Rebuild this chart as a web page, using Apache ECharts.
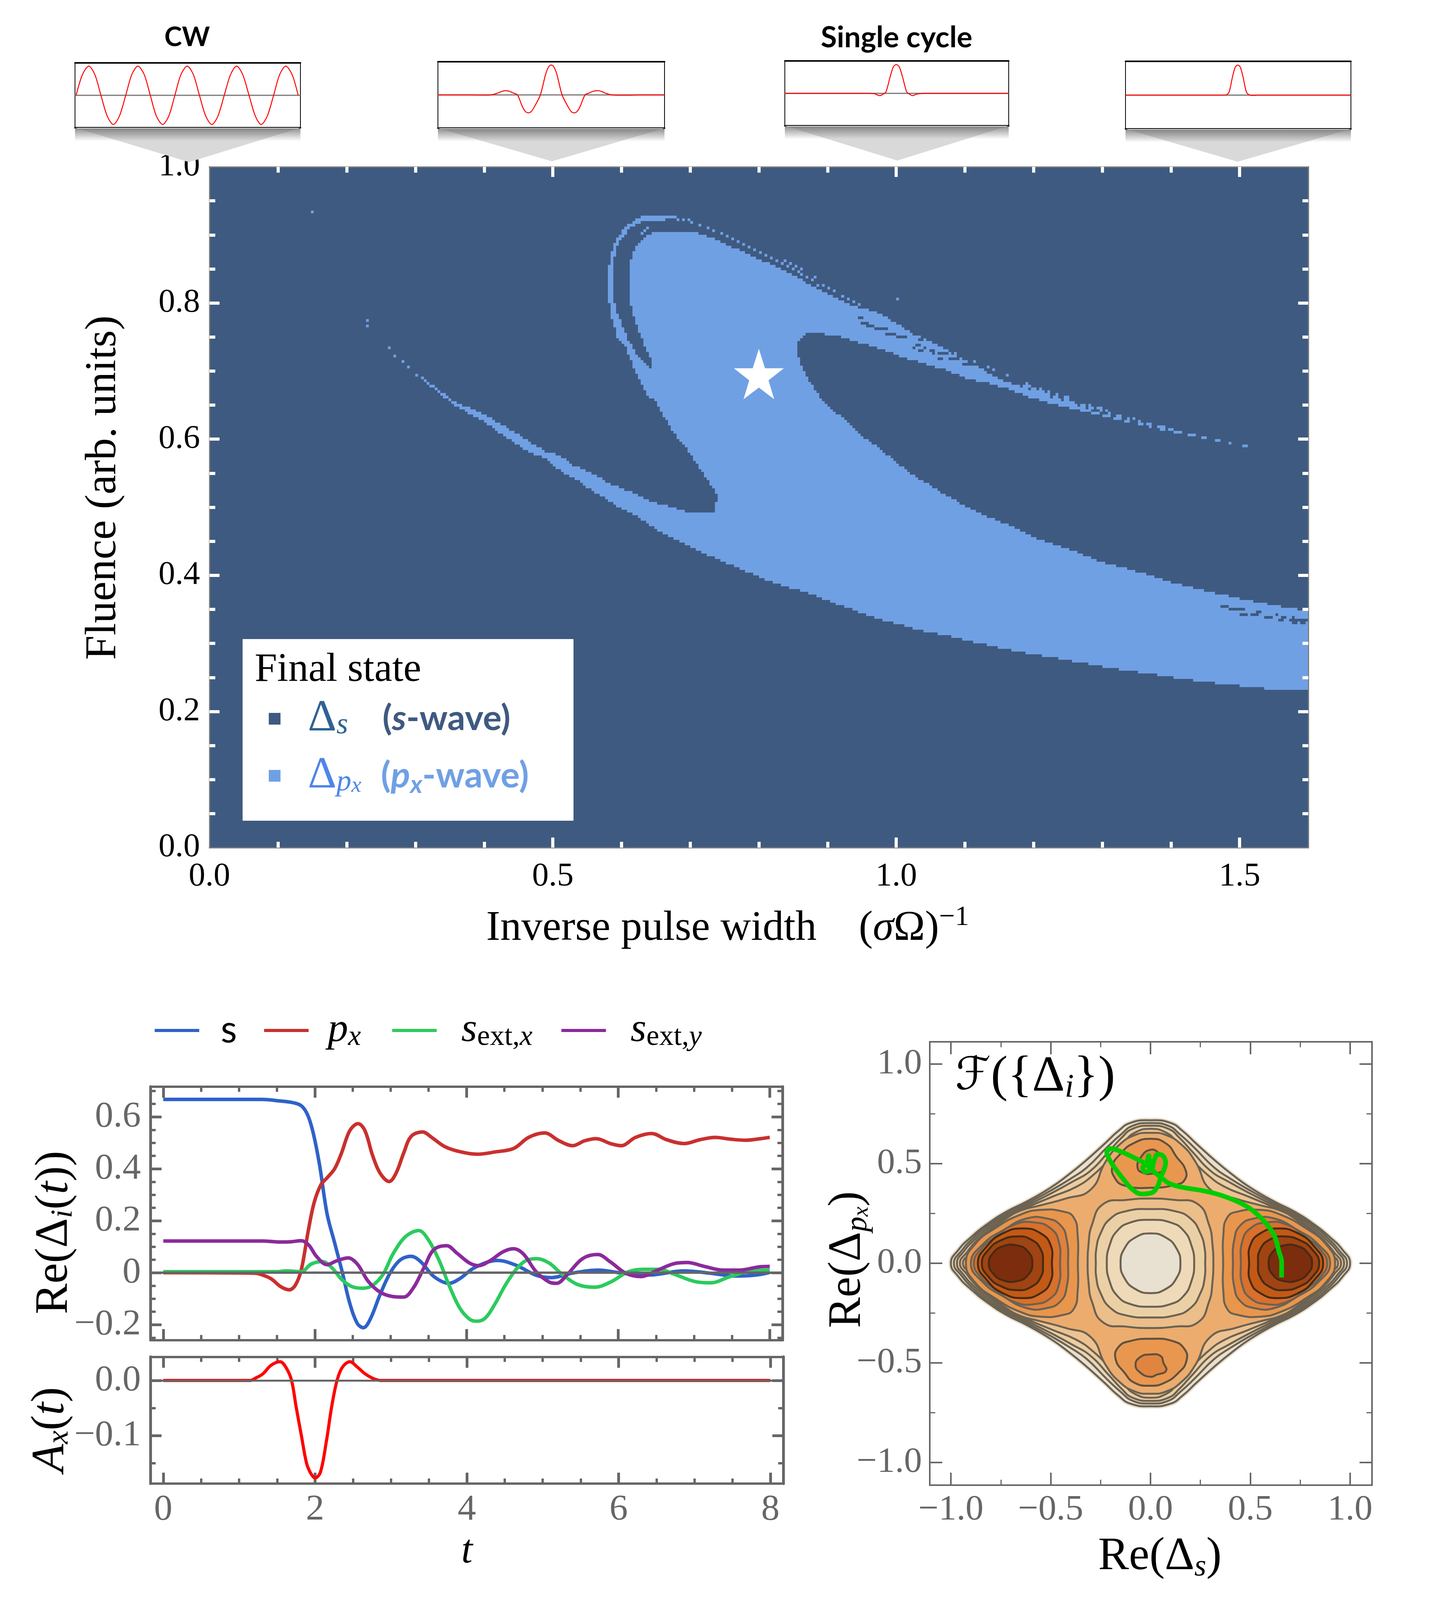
<!DOCTYPE html>
<html>
<head>
    <meta charset="utf-8">
    <title>Final state map</title>
    <style>
        html, body { margin: 0; padding: 0; background: #fff; }
        #chart { width: 3663px; height: 4098px; }
    </style>
</head>
<body>
<div id="chart"></div>
<script src="https://cdn.jsdelivr.net/npm/echarts@6/dist/echarts.min.js"></script>
<script>
    // ---- data ----

    // outline of the px-wave region, [inverse pulse width, fluence]
    var pxOutline = [
        [.30,.6985],[.354,.657],[.405,.634],[.46,.60],[.4915,.581],[.5096,.5761],[.5278,.5629],[.5604,.5481],[.5786,.5366],[.6112,.5234],[.6294,.5152],[.6475,.5069],[.6802,.4987],[.6947,.4921],[.7346,.4921],[.74,.5152],
        [.7328,.5283],[.7237,.5415],[.7128,.558],[.7019,.5744],[.691,.5909],[.6802,.604],[.6693,.6205],[.6602,.637],[.6511,.6535],[.6366,.6666],[.6294,.6798],[.6221,.6963],[.6149,.7127],[.6076,.7325],[.5949,.7457],[.5876,.772],[.584,.7852],[.5804,.8115],[.5804,.8461],[.5851,.8741],[.5913,.8906],[.6003,.9054],[.6149,.9186],[.6312,.9268],[.6783,.9268],
        [.6783,.9228],[.6312,.9202],[.6149,.912],[.604,.8988],[.5967,.8906],[.5902,.8708],[.5876,.8478],[.5876,.8115],[.5913,.7918],[.5985,.7753],[.604,.7588],[.6112,.7424],[.6239,.7226],[.6366,.7095],[.642,.7052],
        [.6432,.7177],[.6366,.7292],[.6312,.7457],[.6239,.7621],[.6192,.7753],[.6149,.7918],[.6112,.8115],[.6112,.8543],[.6167,.8741],[.6239,.8873],[.633,.8972],[.6511,.9054],[.7019,.9054],[.72,.8988],[.74,.8922],[.76,.8823],[.78,.8741],[.7963,.8659],[.8126,.8593],[.8289,.8504],[.8452,.8445],[.8616,.8346],[.8797,.8231],[.8996,.8148],[.9196,.8033],[.945,.7934],
        [.9683,.7885],[.9944,.7732],[1.0205,.7578],[1.0466,.7446],[1.0684,.7337],[1.0901,.7205],[1.1206,.7051],[1.151,.688],[1.1902,.6745],[1.225,.6622],[1.2816,.6446],
        [1.2816,.6397],[1.225,.6538],[1.1946,.6625],[1.1641,.6735],[1.1336,.6823],[1.1032,.6889],[1.0727,.7012],[1.0466,.7095],[1.0118,.7196],[.977,.7328],[.9465,.7416],
        [.9196,.7506],[.896,.7539],[.8724,.7572],[.8608,.749],[.8561,.7391],[.8561,.7259],[.8608,.7095],[.8688,.693],[.8761,.6815],[.887,.665],[.8996,.6518],[.9123,.6387],[.9305,.6238],[.9523,.6024],[.974,.5876],[.9994,.5662],[1.0176,.553],[1.0393,.5382],[1.0604,.525],
        [1.0988,.5032],[1.1336,.4856],[1.1685,.4724],[1.2076,.4527],[1.2555,.4373],[1.299,.4198],[1.3556,.4044],[1.4122,.3868],[1.4753,.3715],[1.5471,.3561],[1.6,.3473],
        [1.6,.231],[1.5623,.231],[1.4949,.2384],[1.4296,.2464],[1.3708,.2551],[1.3186,.263],[1.2707,.2714],[1.2272,.2793],[1.1837,.2867],[1.1423,.2955],[1.1075,.3034],[1.0727,.3113],[1.0357,.3188],[1.0074,.3276],[.977,.335],[.9465,.3451],[.879,.3717],[.8197,.3896],[.7309,.4276],[.6783,.4533],
        [.662,.4608],[.6439,.4723],[.6239,.4855],[.604,.4954],[.584,.5086],[.5641,.5201],[.5514,.5283],[.5387,.5382],[.5205,.5481],[.5078,.5563],[.4915,.5711],[.46,.583],[.405,.622],[.354,.652],[.30,.695]
    ];
    // isolated px-wave cells outside the outline
    var pxCells = [
        [.148,.932],[.228,.775],[.231,.765],[.262,.733],[.269,.723],[.28,.713],[.29,.705],
        [.6395,.9087],[.633,.9047],[.6294,.9011],[.6838,.9212],[.691,.9212],[.699,.9212],[.7037,.9169],[.7146,.913],[.7273,.9087],[.7353,.9047],[.7455,.9014],[.7534,.8972],[.7618,.8932],[.769,.8889],[.7774,.885],[.7854,.8807],[.7944,.8767],[.8017,.8757],[.8017,.8725],[.8101,.8685],[.818,.8649],[.826,.8609],[.838,.8609],[.8343,.8566],[.8423,.8527],[.8463,.8566],[.8543,.8527],[.8623,.8484],[.85,.8484],[.858,.8445],[.8623,.8402],[.8703,.8362],[.8822,.8362],[.8782,.8323],[.8862,.828],[.8935,.8244],[.9015,.8208],[.9094,.8165],[.9218,.8082],[.9298,.804],[.9377,.8],[.9457,.796],[1.0016,.804],
        [1.0871,.727],[1.114,.7152],[1.1336,.7064],[1.1415,.7029],[1.1619,.6941]
    ];
    // short runs of px-wave cells along the thin upper streak, [from, to, fluence]
    var pxDashes = [
        [1.1871,1.1954,.6792],[1.1915,1.1954,.6832],[1.1989,1.2067,.6753],[1.2067,1.215,.6713],[1.2119,1.215,.6753],[1.2194,1.2272,.6674],[1.2233,1.2272,.6713],[1.231,1.2389,.663],[1.235,1.2389,.6669],[1.2468,1.2511,.6612],[1.2468,1.2511,.6577],[1.255,1.2628,.6546],[1.2707,1.2785,.6511],[1.2833,1.2911,.6472],[1.2833,1.2868,.6511],[1.2946,1.299,.6472],[1.299,1.3024,.6432],[1.3077,1.3112,.6432],[1.3112,1.3151,.6393],[1.2872,1.299,.6393],[1.3032,1.3112,.6349],[1.3232,1.331,.6353],[1.3184,1.3267,.6309],[1.3393,1.3424,.6309],[1.335,1.3424,.627],[1.3472,1.3507,.6309],[1.3556,1.3634,.623],[1.3556,1.3587,.627],[1.3669,1.3747,.623],[1.3708,1.3747,.6191],[1.3828,1.3946,.6195],[1.3867,1.3946,.6151],[1.3989,1.4063,.6151],[1.4067,1.4185,.6112],[1.4272,1.4389,.6072],[1.4468,1.4546,.6028],[1.4672,1.475,.5989],[1.4868,1.4903,.5949],[1.5064,1.5107,.591],
        [1.2707,1.2836,.6428],[1.2554,1.2671,.6467],[1.2393,1.2511,.6511],[1.2232,1.2423,.6546],[1.2119,1.2272,.659],[1.1958,1.211,.6634]
    ];
    // short runs of s-wave cells inside the outline, [from, to, fluence]
    var sDashes = [
        [1.475,1.4859,.3526],[1.4872,1.5107,.3486],[1.5033,1.5142,.3438],[1.5185,1.5272,.3407],[1.5272,1.5346,.3443],[1.538,1.5467,.3364],[1.5546,1.5585,.3407],[1.561,1.5664,.3364],[1.5577,1.5621,.3329],[1.575,1.5816,.3329],[1.5794,1.5825,.3364],[1.5781,1.5825,.3289],[1.5816,1.5977,.3351],[1.5903,1.5977,.3289],
        [.9457,.9509,.776],[.9509,.9596,.7718],[.9596,.9683,.7679],[.9683,.9761,.7639],[.9761,.9878,.76],[.9878,1.003,.7556],[1.003,1.016,.749],[1.0261,1.03,.7521],[1.0335,1.0375,.7477],[1.0261,1.03,.7358],[1.03,1.034,.7398],[1.0335,1.0375,.7315],[1.0414,1.045,.7358],[1.05,1.054,.7315],[1.0531,1.057,.724],[1.0618,1.066,.7271],[1.0697,1.074,.724],[1.0618,1.066,.7196],[1.0792,1.0922,.7161],[1.0966,1.1205,.7117]
    ];
    var starPoint = [[.8, .6956]];

    // pulse shapes in the four insets, [fraction of box width, amplitude]
    var cwPulse = [[.005,0],[.033,.64],[.061,.9],[.088,.64],[.115,0],[.143,-.64],[.17,-.9],[.197,-.64],[.225,0],[.252,.64],[.279,.9],[.307,.64],[.334,0],[.361,-.64],[.389,-.9],[.416,-.64],[.443,0],[.47,.64],[.498,.9],[.525,.64],[.552,0],[.58,-.64],[.607,-.9],[.634,-.64],[.662,0],[.69,.64],[.717,.9],[.744,.64],[.772,0],[.8,-.64],[.826,-.9],[.853,-.64],[.881,0],[.908,.64],[.935,.9],[.963,.64],[.99,0]];
    var fewCyclePulse = [[0,0],[.14,0],[.222,-.005],[.24,.01],[.262,.05],[.28,.10],[.298,.13],[.315,.11],[.335,.05],[.351,0],[.372,-.34],[.386,-.5],[.399,-.54],[.412,-.5],[.427,-.34],[.452,0],[.476,.64],[.49,.86],[.5,.9],[.51,.86],[.524,.64],[.548,0],[.573,-.34],[.588,-.5],[.601,-.54],[.614,-.5],[.628,-.34],[.649,0],[.665,.05],[.685,.11],[.706,.13],[.724,.10],[.74,.05],[.76,.01],[.78,-.005],[.827,-.01],[.887,0],[1,0]];
    var singleCyclePulse = [[0,0],[.37,0],[.40,-.01],[.424,-.07],[.44,-.02],[.452,.05],[.47,.5],[.485,.82],[.498,.89],[.511,.82],[.526,.5],[.544,.05],[.556,-.02],[.571,-.07],[.59,-.02],[.62,0],[1,0]];
    var shortPulse = [[0,0],[.43,0],[.448,.01],[.46,.1],[.475,.55],[.487,.83],[.498,.89],[.509,.83],[.521,.55],[.536,.1],[.548,.01],[.566,-.01],[.59,0],[1,0]];

    // time traces
    var sTrace = [[0,.667],[1,.667],[1.3,.667],[1.48,.663],[1.79,.648],[1.89,.616],[1.97,.547],[2.06,.417],[2.16,.227],[2.26,.115],[2.36,.003],[2.46,-.118],[2.56,-.196],[2.64,-.212],[2.73,-.179],[2.86,-.084],[3,.003],[3.13,.05],[3.27,.063],[3.4,.041],[3.57,-.015],[3.77,-.041],[3.91,-.023],[4.11,.02],[4.41,.047],[4.65,.029],[4.92,-.01],[5.12,-.019],[5.39,-.002],[5.73,.01],[6.06,-.002],[6.4,-.009],[6.87,.007],[7.21,-.002],[7.55,-.013],[7.82,-.009],[8,.001]];
    var pxTrace = [[0,0],[1,-.001],[1.2,-.002],[1.28,-.006],[1.42,-.023],[1.55,-.054],[1.66,-.066],[1.74,-.049],[1.82,.011],[1.91,.158],[1.99,.27],[2.08,.339],[2.16,.365],[2.26,.40],[2.35,.46],[2.46,.547],[2.57,.574],[2.66,.547],[2.76,.452],[2.86,.383],[2.98,.351],[3.07,.383],[3.17,.46],[3.27,.525],[3.42,.542],[3.54,.521],[3.71,.486],[3.91,.466],[4.14,.456],[4.38,.465],[4.62,.478],[4.82,.521],[5.03,.538],[5.22,.508],[5.4,.489],[5.56,.508],[5.71,.516],[5.9,.497],[6.04,.489],[6.23,.521],[6.44,.536],[6.64,.512],[6.87,.497],[7.08,.512],[7.28,.521],[7.48,.514],[7.68,.51],[7.88,.516],[8,.521]];
    var sExtXTrace = [[0,.004],[1.5,.004],[1.62,.007],[1.82,.004],[1.95,.033],[2.1,.043],[2.22,.02],[2.36,-.028],[2.49,-.054],[2.63,-.06],[2.76,-.049],[2.9,-.006],[3.03,.072],[3.2,.14],[3.37,.162],[3.5,.125],[3.64,.046],[3.77,-.049],[3.91,-.136],[4.04,-.179],[4.14,-.187],[4.25,-.174],[4.38,-.118],[4.51,-.049],[4.65,.011],[4.78,.046],[4.93,.054],[5.09,.037],[5.26,-.006],[5.46,-.045],[5.69,-.056],[5.9,-.036],[6.13,.003],[6.33,.013],[6.54,.013],[6.74,-.006],[7.01,-.034],[7.22,-.039],[7.48,-.015],[7.75,.007],[8,.01]];
    var sExtYTrace = [[0,.122],[1.3,.122],[1.55,.118],[1.68,.119],[1.82,.123],[1.92,.106],[2.02,.063],[2.16,.031],[2.29,.046],[2.44,.057],[2.56,.033],[2.7,-.032],[2.86,-.075],[3.03,-.092],[3.17,-.094],[3.3,-.058],[3.44,.02],[3.57,.089],[3.74,.104],[3.87,.076],[4.04,.037],[4.16,.027],[4.31,.046],[4.48,.08],[4.62,.092],[4.75,.072],[4.92,.003],[5.09,-.036],[5.19,-.041],[5.32,-.01],[5.53,.054],[5.73,.07],[5.9,.041],[6.1,-.002],[6.3,-.015],[6.5,.007],[6.74,.035],[6.91,.039],[7.14,.024],[7.38,.01],[7.61,.01],[7.85,.022],[8,.024]];
    var fieldTrace = [[0,0],[1.15,0],[1.21,.0038],[1.31,.0117],[1.42,.0275],[1.54,.034],[1.62,.023],[1.69,.0006],[1.75,-.047],[1.82,-.1],[1.89,-.151],[1.95,-.17],[2,-.177],[2.07,-.167],[2.15,-.11],[2.22,-.047],[2.29,0],[2.36,.024],[2.46,.034],[2.56,.024],[2.66,.012],[2.76,.004],[2.86,0],[3.2,0],[8,0]];

    // free-energy contours: outer rings as upper-right quadrants, [Re s, Re px]
    var outerRing1 = [[0,.718],[.10,.705],[.16,.665],[.23,.60],[.33,.51],[.41,.445],[.50,.38],[.62,.31],[.72,.26],[.82,.195],[.90,.13],[.96,.07],[1,0]];
    var outerRing2 = [[0,.704],[.09,.69],[.15,.645],[.22,.58],[.32,.48],[.40,.425],[.50,.365],[.62,.30],[.72,.25],[.82,.185],[.89,.125],[.945,.065],[.985,0]];
    var outerRing3 = [[0,.691],[.09,.675],[.145,.63],[.21,.56],[.30,.465],[.39,.41],[.50,.35],[.62,.29],[.72,.24],[.81,.18],[.88,.12],[.935,.06],[.97,0]];
    var outerRing4 = [[0,.675],[.08,.655],[.135,.605],[.20,.53],[.285,.445],[.37,.385],[.49,.335],[.62,.28],[.72,.23],[.80,.175],[.87,.115],[.92,.055],[.955,0]];
    var outerRing5 = [[0,.655],[.075,.645],[.155,.596],[.225,.51],[.30,.37],[.425,.325],[.555,.29],[.65,.265],[.73,.22],[.80,.165],[.86,.11],[.905,.05],[.94,0]];
    // rings round the central maximum, same quadrant form
    var centreRing1 = [[0,.325],[.12,.318],[.237,.297],[.293,.194],[.311,.09],[.315,0]];
    var centreRing2 = [[0,.272],[.12,.262],[.2,.225],[.25,.15],[.272,.07],[.274,0]];
    var centreRing3 = [[0,.218],[.1,.205],[.165,.165],[.205,.09],[.219,0]];
    var centreRing4 = [[0,.15],[.075,.13],[.13,.075],[.15,0]];
    // rings round the s-wave minimum, upper half
    var wellRing1 = [[.364,0],[.365,.14],[.385,.23],[.44,.26],[.55,.268],[.65,.245],[.78,.175],[.88,.095],[.925,0]];
    var wellRing2 = [[.413,0],[.42,.12],[.45,.19],[.52,.225],[.62,.225],[.74,.165],[.84,.095],[.90,0]];
    var wellRing3 = [[.453,0],[.46,.11],[.50,.175],[.58,.205],[.68,.195],[.78,.13],[.85,.07],[.885,0]];
    var wellRing4 = [[.494,0],[.50,.09],[.55,.15],[.64,.175],[.74,.15],[.82,.085],[.865,0]];
    var wellRing5 = [[.539,0],[.55,.07],[.60,.12],[.67,.135],[.75,.115],[.81,.07],[.845,0]];
    var wellRing6 = [[.592,0],[.615,.06],[.67,.09],[.74,.085],[.79,.05],[.81,0]];
    // closed rings round the px-wave minima
    var topRing = [[0,.625],[.08,.60],[.13,.535],[.175,.47],[.172,.42],[.13,.395],[0,.379],[-.13,.39],[-.18,.43],[-.19,.49],[-.15,.55],[-.09,.60]];
    var topCore = [[0,.57],[.045,.55],[.075,.505],[.07,.47],[.01,.45],[-.04,.455],[-.065,.48],[-.05,.53]];
    var bottomRing = [[0,-.379],[.11,-.39],[.17,-.43],[.18,-.49],[.14,-.55],[.07,-.60],[0,-.615],[-.08,-.60],[-.13,-.55],[-.175,-.48],[-.16,-.42],[-.1,-.39]];
    var bottomCore = [[0,-.458],[.05,-.465],[.065,-.50],[.078,-.54],[.03,-.56],[0,-.57],[-.05,-.55],[-.075,-.51],[-.05,-.47]];
    var trajectory = [[.657,-.071],[.657,.008],[.645,.054],[.62,.139],[.575,.204],[.515,.263],[.445,.305],[.355,.341],[.265,.364],[.166,.38],[.096,.40],[.051,.433],[.026,.452],[-.024,.498],[-.084,.531],[-.154,.563],[-.199,.576],[-.219,.557],[-.204,.518],[-.174,.472],[-.134,.42],[-.094,.374],[-.044,.348],[.006,.354],[.036,.387],[.051,.433],[.066,.465],[.076,.505],[.061,.541],[.036,.547],[.021,.524],[.006,.478],[-.024,.459],[-.039,.478],[-.019,.505],[-.009,.541],[-.002,.505],[.016,.472]];

    // ticks
    var mapXMajor = [.5, 1, 1.5], mapXMinor = [.1,.2,.3,.4,.6,.7,.8,.9,1.1,1.2,1.3,1.4];
    var mapYMajor = [.2,.4,.6,.8], mapYMinor = [.05,.1,.15,.25,.3,.35,.45,.5,.55,.65,.7,.75,.85,.9,.95];
    var mapXLabels = [0,.5,1,1.5], mapYLabels = [0,.2,.4,.6,.8,1];
    var timeMajor = [0,2,4,6,8], timeMinor = [.5,1,1.5,2.5,3,3.5,4.5,5,5.5,6.5,7,7.5];
    var traceYMajor = [-.2,0,.2,.4,.6], traceYMinor = [-.25,-.15,-.1,-.05,.05,.1,.15,.25,.3,.35,.45,.5,.55,.65,.7];
    var fieldYMajor = [-.1,0], fieldYMinor = [-.15,-.05];
    var energyMajor = [-1,-.5,0,.5,1], energyMinor = [-.75,-.25,.25,.75];

    // ---- helpers ----

    var SERIF = '"Liberation Serif", serif';
    var CELL = 0.004, NX = 400, NY = 250;

    function insidePolygon(x, y, poly) {
        var hit = false;
        for (var i = 0, j = poly.length - 1; i < poly.length; j = i++) {
            if ((poly[i][1] > y) !== (poly[j][1] > y) &&
                x < (poly[j][0] - poly[i][0]) * (y - poly[i][1]) / (poly[j][1] - poly[i][1]) + poly[i][0]) {
                hit = !hit;
            }
        }
        return hit;
    }

    // the map is a 400 x 250 grid of final states, merged into runs per row
    var stateGrid = [];
    for (var j = 0; j < NY; j++) {
        stateGrid.push([]);
        for (var i = 0; i < NX; i++) {
            stateGrid[j].push(insidePolygon((i + .5) * CELL, (j + .5) * CELL, pxOutline));
        }
    }
    function setCell(x, y, state) {
        stateGrid[Math.min(NY - 1, Math.floor(y / CELL))][Math.min(NX - 1, Math.floor(x / CELL))] = state;
    }
    function markDashes(dashes, state) {
        dashes.forEach(function (d) {
            for (var x = d[0]; x <= d[1]; x += CELL) setCell(x, d[2], state);
        });
    }
    pxCells.forEach(function (c) { setCell(c[0], c[1], true); });
    markDashes(pxDashes, true);
    markDashes(sDashes, false);
    var sRuns = [], pxRuns = [];
    stateGrid.forEach(function (row, j) {
        var start = 0;
        for (var i = 1; i <= NX; i++) {
            if (i === NX || row[i] !== row[start]) {
                (row[start] ? pxRuns : sRuns).push([start * CELL, j * CELL, i * CELL, (j + 1) * CELL]);
                start = i;
            }
        }
    });

    function runRenderer(color) {
        return function (params, api) {
            var a = api.coord([api.value(0), api.value(3)]);
            var b = api.coord([api.value(2), api.value(1)]);
            var x = Math.round(a[0]), y = Math.round(a[1]);
            return {
                type: 'rect',
                shape: { x: x, y: y, width: Math.round(b[0]) - x, height: Math.round(b[1]) - y },
                style: { fill: color }
            };
        };
    }

    function quadrantToRing(q) {
        var ring = q.slice();
        for (var i = q.length - 2; i >= 0; i--) ring.push([q[i][0], -q[i][1]]);
        for (i = 1; i < q.length; i++) ring.push([-q[i][0], -q[i][1]]);
        for (i = q.length - 2; i > 0; i--) ring.push([-q[i][0], q[i][1]]);
        return ring;
    }
    function halfToRing(h, sign) {
        var ring = h.map(function (p) { return [sign * p[0], p[1]]; });
        for (var i = h.length - 2; i > 0; i--) ring.push([sign * h[i][0], -h[i][1]]);
        return ring;
    }

    var rings = [], ringFills = [], ringStrokes = [], ringWidths = [];
    function addRing(points, fill, stroke, width) {
        rings.push(points); ringFills.push(fill); ringStrokes.push(stroke); ringWidths.push(width);
    }
    var GREY_LINE = '#6b6252', BROWN_LINE = '#5f5140';
    addRing(quadrantToRing(outerRing1), '#e9dfcc', '#e8dfcc', 12);
    [outerRing1, outerRing2, outerRing3, outerRing4, outerRing5].forEach(function (q, i) {
        addRing(quadrantToRing(q), ['#e9dfcc', '#ebd6b4', '#edcda0', '#eec290', '#ecac6e'][i], GREY_LINE, 5);
    });
    [centreRing1, centreRing2, centreRing3, centreRing4].forEach(function (q, i) {
        addRing(quadrantToRing(q), ['#ebbe8a', '#ecd0a5', '#eed9b9', '#e8e0d0'][i], GREY_LINE, 5);
    });
    addRing(topRing, '#e9974f', BROWN_LINE, 5);
    addRing(topCore, '#e0853f', BROWN_LINE, 5);
    addRing(bottomRing, '#e9974f', BROWN_LINE, 5);
    addRing(bottomCore, '#e0853f', BROWN_LINE, 5);
    [-1, 1].forEach(function (sign) {
        [wellRing1, wellRing2, wellRing3, wellRing4, wellRing5, wellRing6].forEach(function (h, i) {
            addRing(halfToRing(h, sign), ['#e9964d', '#e0813c', '#d9702c', '#c25a16', '#9f4412', '#7c2d0e'][i], i < 3 ? GREY_LINE : '#472a14', 5);
        });
    });

    // ---- axes: every panel has a closed frame with ticks on all four sides ----

    var grids = [], xAxes = [], yAxes = [];

    function addAxis(list, cfg, position, values, tickLen, tickWidth, labels, extra) {
        var axis = {
            type: 'value',
            gridIndex: cfg.grid,
            position: position,
            min: cfg.min,
            max: cfg.max,
            z: 3,
            nameMoveOverlap: false,
            splitLine: { show: false },
            axisLine: { show: true, onZero: false, lineStyle: { color: cfg.lineColor, width: cfg.lineWidth } },
            axisTick: values ? {
                show: true, inside: true, length: tickLen, customValues: values,
                lineStyle: { color: cfg.tickColor, width: tickWidth }
            } : { show: false },
            axisLabel: labels ? {
                show: true, customValues: labels, formatter: cfg.format, margin: cfg.margin,
                fontFamily: SERIF, fontSize: cfg.fontSize, color: cfg.labelColor, padding: cfg.labelPadding || 0
            } : { show: false }
        };
        for (var k in extra) axis[k] = extra[k];
        list.push(axis);
        return list.length - 1;
    }

    // returns the index of the labelled axis; the others only draw ticks
    function addFrame(list, sides, cfg) {
        var main = addAxis(list, cfg, sides[0], cfg.major, cfg.majorLen, cfg.majorWidth, cfg.labels, cfg.extra);
        if (cfg.minor) addAxis(list, cfg, sides[0], cfg.minor, cfg.minorLen, cfg.minorWidth);
        addAxis(list, cfg, sides[1], cfg.major, cfg.majorLen, cfg.majorWidth);
        if (cfg.minor) addAxis(list, cfg, sides[1], cfg.minor, cfg.minorLen, cfg.minorWidth);
        return main;
    }

    function addPanel(box, xCfg, yCfg) {
        var g = grids.length;
        grids.push({ left: box[0], top: box[1], width: box[2] - box[0], height: box[3] - box[1] });
        xCfg.grid = yCfg.grid = g;
        return {
            x: addFrame(xAxes, ['bottom', 'top'], xCfg),
            y: addFrame(yAxes, ['left', 'right'], yCfg)
        };
    }

    function oneDecimal(v) { return v.toFixed(1).replace('-', '\u2212'); }

    var MAP_STYLE = {
        lineColor: '#7d7d7d', lineWidth: 3, tickColor: '#ffffff',
        majorLen: 26, minorLen: 15, majorWidth: 8, minorWidth: 8,
        labelColor: '#000', fontSize: 85, format: oneDecimal
    };
    function mapCfg(o) { return Object.assign({}, MAP_STYLE, o); }

    var mapPanel = addPanel([536, 427, 3349, 2170],
        mapCfg({
            min: 0, max: 1.6, major: mapXMajor, minor: mapXMinor, labels: mapXLabels, margin: 32,
            extra: {
                name: '{t|Inverse pulse width    (}{i|\u03c3}{t|\u03a9)}{s|\u22121}',
                nameLocation: 'middle', nameGap: 143,
                nameTextStyle: {
                    padding: [0, 160, 0, 0],
                    rich: {
                        t: { fontFamily: SERIF, fontSize: 108, color: '#000', lineHeight: 130 },
                        i: { fontFamily: SERIF, fontSize: 108, fontStyle: 'italic', color: '#000', lineHeight: 130 },
                        s: { fontFamily: SERIF, fontSize: 72, color: '#000', verticalAlign: 'top', lineHeight: 130 }
                    }
                }
            }
        }),
        mapCfg({
            min: 0, max: 1, major: mapYMajor, minor: mapYMinor, labels: mapYLabels, margin: 24, labelPadding: [8, 0, 0, 0],
            extra: {
                name: '{t|Fluence (arb. units)}',
                nameLocation: 'middle', nameGap: 213,
                nameTextStyle: {
                    padding: [0, 0, 0, 100],
                    rich: { t: { fontFamily: SERIF, fontSize: 113, color: '#000', lineHeight: 116 } }
                }
            }
        }));

    // pulse insets above the map
    var insetBoxes = [[192, 161, 769, 327], [1121, 158, 1701, 328], [2009, 156, 2582, 322], [2881, 157, 3458, 330]];
    var insetPulses = [cwPulse, fewCyclePulse, singleCyclePulse, shortPulse];
    var insetPanels = insetBoxes.map(function (box) {
        return addPanel(box,
            { min: 0, max: 1, lineColor: '#000', lineWidth: 4, tickColor: '#000' },
            { min: -1, max: 1, lineColor: '#000', lineWidth: 2, tickColor: '#000' });
    });

    var GREY_TEXT = '#666666';
    var PLOT_STYLE = {
        lineColor: '#666', tickColor: '#666', majorLen: 28, minorLen: 13, majorWidth: 7, minorWidth: 6,
        labelColor: GREY_TEXT, fontSize: 94, format: oneDecimal
    };
    function plotCfg(o) { return Object.assign({}, PLOT_STYLE, o); }

    function traceLabel(v) { return v === 0 ? '0' : oneDecimal(v); }

    var tracePanel = addPanel([385.5, 2782, 2003, 3430.5],
        plotCfg({ min: -.1675, max: 8.168, major: timeMajor, minor: timeMinor, lineWidth: 6 }),
        plotCfg({
            min: -.2594, max: .716, major: traceYMajor, minor: traceYMinor, labels: [-.2,0,.2,.4,.6], margin: 25,
            lineWidth: 7, format: traceLabel,
            extra: {
                name: '{t|Re(\u0394}{b|i}{t|(}{i|t}{t|))}',
                nameLocation: 'middle', nameGap: 184,
                nameTextStyle: {
                    padding: [0, 98, 0, 0],
                    rich: {
                        t: { fontFamily: SERIF, fontSize: 118, color: '#000', lineHeight: 122 },
                        i: { fontFamily: SERIF, fontSize: 118, fontStyle: 'italic', color: '#000', lineHeight: 122 },
                        b: { fontFamily: SERIF, fontSize: 78, fontStyle: 'italic', color: '#000', verticalAlign: 'bottom', lineHeight: 122 }
                    }
                }
            }
        }));

    var fieldPanel = addPanel([385.5, 3473.5, 2005, 3798],
        plotCfg({
            min: -.1666, max: 8.17, major: timeMajor, minor: timeMinor, labels: timeMajor, margin: 20, lineWidth: 6,
            format: function (v) { return String(v); },
            extra: {
                name: '{i|t}', nameLocation: 'middle', nameGap: 123,
                nameTextStyle: { rich: { i: { fontFamily: SERIF, fontSize: 104, fontStyle: 'italic', color: '#000' } } }
            }
        }),
        plotCfg({
            min: -.1872, max: .0429, major: fieldYMajor, minor: fieldYMinor, labels: fieldYMajor, margin: 25, lineWidth: 7,
            extra: {
                name: '{i|A}{b|x}{t|(}{i|t}{t|)}',
                nameLocation: 'middle', nameGap: 194,
                nameTextStyle: {
                    padding: [0, 48, 0, 0],
                    rich: {
                        t: { fontFamily: SERIF, fontSize: 118, color: '#000', lineHeight: 122 },
                        i: { fontFamily: SERIF, fontSize: 118, fontStyle: 'italic', color: '#000', lineHeight: 122 },
                        b: { fontFamily: SERIF, fontSize: 78, fontStyle: 'italic', color: '#000', verticalAlign: 'bottom', lineHeight: 122 }
                    }
                }
            }
        }));

    var ENERGY_STYLE = {
        lineColor: '#666', tickColor: '#666', lineWidth: 4, majorLen: 32, minorLen: 14, majorWidth: 4, minorWidth: 3,
        labelColor: GREY_TEXT, fontSize: 92, format: oneDecimal
    };
    function energyCfg(o) { return Object.assign({}, ENERGY_STYLE, o); }
    var energyPanel = addPanel([2380, 2667, 3512, 3802],
        energyCfg({
            min: -1.106, max: 1.11, major: energyMajor, minor: energyMinor, labels: energyMajor, margin: 18,
            extra: {
                name: '{t|Re(\u0394}{b|s}{t|)}', nameLocation: 'middle', nameGap: 119,
                nameTextStyle: {
                    padding: [0, 0, 0, 46],
                    rich: {
                        t: { fontFamily: SERIF, fontSize: 118, color: '#000', lineHeight: 130 },
                        b: { fontFamily: SERIF, fontSize: 78, fontStyle: 'italic', color: '#000', verticalAlign: 'bottom', lineHeight: 130 }
                    }
                }
            }
        }),
        energyCfg({
            min: -1.114, max: 1.112, major: energyMajor, minor: energyMinor, labels: energyMajor, margin: 20,
            extra: {
                name: '{t|Re(\u0394}{b|p}{c|x}{t|)}', nameLocation: 'middle', nameGap: 145,
                nameTextStyle: {
                    padding: [0, 0, 0, 20],
                    rich: {
                        t: { fontFamily: SERIF, fontSize: 118, color: '#000', lineHeight: 130 },
                        b: { fontFamily: SERIF, fontSize: 78, fontStyle: 'italic', color: '#000', verticalAlign: 'bottom', lineHeight: 130 },
                        c: { fontFamily: SERIF, fontSize: 58, fontStyle: 'italic', color: '#000', verticalAlign: 'bottom', lineHeight: 130 }
                    }
                }
            }
        }));

    // ---- series ----

    function onPanel(panel, s) { s.xAxisIndex = panel.x; s.yAxisIndex = panel.y; return s; }

    var series = [
        onPanel(mapPanel, {
            name: 'sWave', type: 'custom', data: sRuns, renderItem: runRenderer('#3f5a80'),
            encode: { x: [0, 2], y: [1, 3] }, itemStyle: { color: '#3f5a80' }, silent: true
        }),
        onPanel(mapPanel, {
            name: 'pxWave', type: 'custom', data: pxRuns, renderItem: runRenderer('#70a0e4'),
            encode: { x: [0, 2], y: [1, 3] }, itemStyle: { color: '#70a0e4' }, silent: true
        }),
        onPanel(mapPanel, {
            name: 'star', type: 'scatter', data: starPoint, z: 4, silent: true,
            symbol: 'path://M50 0 L61.8 35 L98 35 L68.5 57 L79.4 91 L50 70 L20.6 91 L31.5 57 L2 35 L38.2 35 Z',
            symbolSize: [128, 129], itemStyle: { color: '#ffffff', opacity: 1 }
        })
    ];

    insetPanels.forEach(function (panel, k) {
        series.push(onPanel(panel, {
            name: 'base' + k, type: 'line', data: [[0, 0], [1, 0]], showSymbol: false, silent: true,
            lineStyle: { color: '#777', width: 3 }
        }));
        series.push(onPanel(panel, {
            name: 'pulse' + k, type: 'line', data: insetPulses[k], showSymbol: false, silent: true, smooth: .3,
            lineStyle: { color: '#ff0000', width: 2.5 }
        }));
    });

    [['s', sTrace, '#2f62c9'], ['px', pxTrace, '#c9302e'], ['sExtX', sExtXTrace, '#2bcb5d'], ['sExtY', sExtYTrace, '#8b2a9c']].forEach(function (t, k) {
        var s = {
            name: t[0], type: 'line', data: t[1], showSymbol: false, silent: true, smooth: .35, color: t[2],
            lineStyle: { color: t[2], width: 9 }, itemStyle: { color: t[2] }
        };
        if (k === 3) {
            s.markLine = {
                silent: true, symbol: 'none', label: { show: false }, data: [{ yAxis: 0 }],
                lineStyle: { color: '#666', width: 6, type: 'solid' }, animation: false
            };
        }
        series.push(onPanel(tracePanel, s));
    });

    series.push(onPanel(fieldPanel, {
        name: 'field', type: 'line', data: fieldTrace, showSymbol: false, silent: true, smooth: .35,
        lineStyle: { color: '#ff0000', width: 8 },
        markLine: {
            silent: true, symbol: 'none', label: { show: false }, data: [{ yAxis: 0 }],
            lineStyle: { color: '#666', width: 5, type: 'solid' }, animation: false
        }
    }));

    series.push(onPanel(energyPanel, {
        name: 'contours', type: 'custom', silent: true, clip: true,
        data: rings.map(function (r, i) { return [i]; }),
        encode: { x: -1, y: -1 },
        renderItem: function (params, api) {
            var k = params.dataIndex;
            return {
                type: 'polygon',
                shape: { points: rings[k].map(function (p) { return api.coord(p); }), smooth: .5 },
                style: { fill: ringFills[k], stroke: ringStrokes[k], lineWidth: ringWidths[k] }
            };
        }
    }));
    series.push(onPanel(energyPanel, {
        name: 'trajectory', type: 'line', data: trajectory, showSymbol: false, silent: true, smooth: .4, z: 5,
        lineStyle: { color: '#00cc00', width: 12 }
    }));

    // ---- legends ----

    var stateLabels = {
        sWave: '{sp| }{da|\u0394}{sa|s}{gapa| }{ba|(}{ia|s}{ba|-wave)}',
        pxWave: '{sp| }{db|\u0394}{sb|p}{sc|x}{gapb| }{bb|(}{ib|p}{xb|x}{bb|-wave)}'
    };
    var stateLegend = {
        left: 688, top: 1783, orient: 'vertical', padding: 0, itemGap: 32, itemWidth: 30, itemHeight: 30,
        icon: 'rect', selectedMode: false, z: 5,
        data: ['sWave', 'pxWave'],
        formatter: function (name) { return stateLabels[name]; },
        textStyle: {
            rich: {
                sp: { width: 65, lineHeight: 110 },
                da: { fontFamily: SERIF, fontSize: 114, color: '#2f6295', lineHeight: 110 },
                sa: { fontFamily: SERIF, fontSize: 76, fontStyle: 'italic', color: '#2f6295', verticalAlign: 'bottom', lineHeight: 110 },
                gapa: { width: 88, lineHeight: 110 },
                ba: { fontFamily: 'Lato', fontWeight: 'bold', fontSize: 90, color: '#3f5a80', lineHeight: 110 },
                ia: { fontFamily: 'Lato', fontWeight: 'bold', fontStyle: 'italic', fontSize: 90, color: '#3f5a80', lineHeight: 110 },
                db: { fontFamily: SERIF, fontSize: 114, color: '#4f86e8', lineHeight: 110 },
                sb: { fontFamily: SERIF, fontSize: 76, fontStyle: 'italic', color: '#4f86e8', verticalAlign: 'bottom', lineHeight: 110 },
                sc: { fontFamily: SERIF, fontSize: 58, fontStyle: 'italic', color: '#4f86e8', verticalAlign: 'bottom', lineHeight: 110 },
                gapb: { width: 50, lineHeight: 110 },
                bb: { fontFamily: 'Lato', fontWeight: 'bold', fontSize: 92, color: '#70a0e4', lineHeight: 110 },
                ib: { fontFamily: 'Lato', fontWeight: 'bold', fontStyle: 'italic', fontSize: 92, color: '#70a0e4', lineHeight: 110 },
                xb: { fontFamily: 'Lato', fontWeight: 'bold', fontStyle: 'italic', fontSize: 64, color: '#70a0e4', verticalAlign: 'bottom', lineHeight: 110 }
            }
        }
    };

    var traceLabels = {
        s: '{sp0| }{u|s}{end0| }',
        px: '{sp1| }{p|p}{k1|x}{end1| }',
        sExtX: '{sp2| }{p|s}{k2|ext,}{k3|x}{end2| }',
        sExtY: '{sp2| }{p|s}{k2|ext,}{k3|y}'
    };
    var traceLegend = {
        left: 396, top: 2586, orient: 'horizontal', padding: 0, itemGap: 0, itemWidth: 114, itemHeight: 8,
        icon: 'rect', selectedMode: false, z: 5,
        data: ['s', 'px', 'sExtX', 'sExtY'],
        formatter: function (name) { return traceLabels[name]; },
        textStyle: {
            rich: {
                sp0: { width: 50, lineHeight: 110 }, end0: { width: 70, lineHeight: 110 },
                sp1: { width: 44, lineHeight: 110 }, end1: { width: 80, lineHeight: 110 },
                sp2: { width: 58, lineHeight: 110 }, end2: { width: 74, lineHeight: 110 },
                u: { fontFamily: 'Lato', fontSize: 96, color: '#000', width: 41, lineHeight: 110 },
                p: { fontFamily: SERIF, fontSize: 104, fontStyle: 'italic', color: '#000', lineHeight: 110 },
                k1: { fontFamily: SERIF, fontSize: 74, fontStyle: 'italic', color: '#000', verticalAlign: 'bottom', lineHeight: 110 },
                k2: { fontFamily: SERIF, fontSize: 74, color: '#000', verticalAlign: 'bottom', lineHeight: 110 },
                k3: { fontFamily: SERIF, fontSize: 74, fontStyle: 'italic', color: '#000', verticalAlign: 'bottom', lineHeight: 110 }
            }
        }
    };

    // ---- decoration: zoom wedges from the insets, legend box, captions ----

    var wedgeTips = [[484, 415], [1413, 413], [2297, 411], [3168, 414]];
    var graphics = [];
    insetBoxes.forEach(function (box, k) {
        graphics.push({
            type: 'polygon', z: 10, silent: true,
            shape: { points: [[box[0], box[3]], [box[2], box[3]], wedgeTips[k]] },
            style: { fill: '#d9d9d9' }
        });
        graphics.push({
            type: 'rect', z: 10, silent: true,
            shape: { x: box[0], y: box[3] + 2, width: box[2] - box[0], height: 32 },
            style: {
                fill: new echarts.graphic.LinearGradient(0, 0, 0, 1, [
                    { offset: 0, color: 'rgba(100,100,100,0.7)' },
                    { offset: 1, color: 'rgba(100,100,100,0)' }
                ])
            }
        });
    });
    graphics.push({
        type: 'rect', z: 3, silent: true,
        shape: { x: 621, y: 1636, width: 847, height: 465 },
        style: { fill: '#ffffff' }
    });
    graphics.push({
        type: 'text', z: 5, silent: true, x: 652, y: 1716,
        style: { text: 'Final state', fontFamily: SERIF, fontSize: 103, fill: '#000', verticalAlign: 'middle' }
    });
    graphics.push({
        type: 'text', z: 11, silent: true, x: 479, y: 96,
        style: { text: 'CW', fontFamily: 'Lato', fontWeight: 'bold', fontSize: 68, fill: '#000', align: 'center', verticalAlign: 'middle' }
    });
    graphics.push({
        type: 'text', z: 11, silent: true, x: 2295, y: 97,
        style: { text: 'Single cycle', fontFamily: 'Lato', fontWeight: 'bold', fontSize: 75, fill: '#000', align: 'center', verticalAlign: 'middle' }
    });
    graphics.push({
        type: 'text', z: 11, silent: true, x: 2445, y: 2758,
        style: {
            text: '{c|\u2131}{t|({\u0394}{b|i}}{t|)}',
            fontFamily: SERIF, fontSize: 130, fill: '#000',
            verticalAlign: 'middle',
            rich: {
                c: { fontFamily: '"DejaVu Serif", "DejaVu Sans", serif', fontSize: 116, fill: '#000', lineHeight: 140 },
                t: { fontFamily: SERIF, fontSize: 130, fill: '#000', lineHeight: 140 },
                b: { fontFamily: SERIF, fontStyle: 'italic', fontSize: 84, fill: '#000', verticalAlign: 'bottom', lineHeight: 140 }
            }
        }
    });

    var myChart = echarts.init(document.getElementById('chart'), null, { devicePixelRatio: 1 });
    myChart.setOption({
        animation: false,
        backgroundColor: '#ffffff',
        grid: grids,
        xAxis: xAxes,
        yAxis: yAxes,
        legend: [stateLegend, traceLegend],
        graphic: graphics,
        series: series
    });
</script>
</body>
</html>
